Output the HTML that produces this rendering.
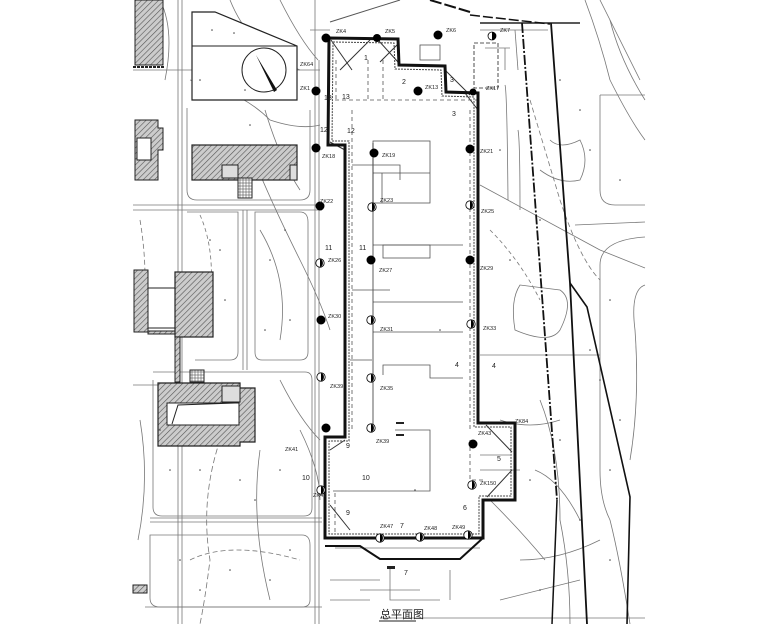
<!DOCTYPE html>
<html><head><meta charset="utf-8"><style>
html,body{margin:0;padding:0;background:#fff;}
svg{display:block}
text{font-family:"Liberation Sans","Noto Sans CJK SC",sans-serif;fill:#222}
</style></head><body>
<svg width="780" height="624" viewBox="0 0 780 624" xmlns="http://www.w3.org/2000/svg">
<defs>
<pattern id="h" width="4" height="4" patternUnits="userSpaceOnUse" patternTransform="rotate(45)">
<rect width="4" height="4" fill="#ccc"/><line x1="0" y1="0" x2="0" y2="4" stroke="#555" stroke-width="1.2"/></pattern>
<pattern id="g" width="3" height="3" patternUnits="userSpaceOnUse"><rect width="3" height="3" fill="#fff" stroke="#555" stroke-width="0.6"/></pattern>
</defs>
<rect width="780" height="624" fill="#fff"/>
<g fill="none" stroke="#777" stroke-width="0.8">
<line x1="178" y1="0" x2="178" y2="624"/><line x1="182" y1="0" x2="182" y2="624"/>
<line x1="133" y1="205" x2="322" y2="205"/><line x1="133" y1="210" x2="322" y2="210"/>
<line x1="133" y1="385" x2="158" y2="385"/>
<line x1="150" y1="518" x2="322" y2="518"/><line x1="150" y1="522" x2="322" y2="522"/>
<line x1="145" y1="607" x2="322" y2="607"/>
<line x1="243" y1="210" x2="243" y2="370"/><line x1="247" y1="210" x2="247" y2="370"/>
<path d="M187 108 V190 Q187 200 197 200 H300 Q310 200 310 190 V110"/>
<path d="M255 212 H300 Q308 212 308 222 V352 Q308 360 300 360 H262 Q255 360 255 352 Z"/>
<path d="M187 212 H238 V352 Q238 360 230 360 H195"/>
<path d="M153 372 H305 Q312 372 312 380 V508 Q312 516 304 516 H162 Q153 516 153 507 V380"/>
<path d="M150 535 H302 Q310 535 310 545 V600 Q310 607 302 607 H160 Q150 607 150 598 Z"/>
<line x1="315" y1="0" x2="315" y2="624"/><line x1="319" y1="60" x2="319" y2="624"/>
<line x1="310" y1="30" x2="330" y2="30"/>
<path d="M160 0 Q175 30 165 80"/>
<path d="M133 70 H320"/>
<path d="M200 215 Q220 260 205 330" stroke-dasharray="4 3"/>
<path d="M260 230 Q290 280 280 340"/>
<path d="M190 80 Q240 90 270 120 Q300 130 320 125"/>
<path d="M250 150 Q270 200 300 260 Q320 300 330 330"/>
<path d="M220 440 Q200 500 210 560 Q205 600 200 624" stroke-dasharray="6 3"/>
<path d="M260 450 Q250 520 270 600"/>
<path d="M140 420 Q150 480 138 540"/>
<path d="M280 0 Q300 40 318 60"/>
<path d="M230 0 Q250 50 300 70" />
<path d="M140 220 Q150 280 140 330" stroke-dasharray="5 3"/>
<path d="M280 380 Q300 420 320 440"/>
<path d="M190 560 Q230 540 300 560" stroke-dasharray="5 3"/>
<path d="M300 430 Q320 470 320 500"/>
<path d="M265 110 Q280 160 300 190"/>
<line x1="480" y1="23" x2="580" y2="23" stroke="#222" stroke-width="1.5"/>
<line x1="480" y1="30" x2="548" y2="30"/>
<path d="M600 0 Q620 40 640 80"/><path d="M585 0 Q600 40 610 80 Q630 120 645 140"/>
<path d="M600 95 H645 M600 95 V190 Q600 205 615 205 H645"/>
<line x1="575" y1="225" x2="645" y2="222"/>
<line x1="480" y1="185" x2="600" y2="250"/><line x1="600" y1="250" x2="645" y2="268"/>
<path d="M645 237 Q600 240 600 265 V470 Q600 500 610 520 Q620 560 630 624"/>
<path d="M645 285 Q630 290 635 330 Q640 400 630 460"/>
<path d="M505 85 Q507 90 508 200 M518 130 Q520 140 520 210"/>
<path d="M520 285 Q510 300 515 330 Q550 345 560 330 Q575 300 560 290 Z"/>
<path d="M550 140 Q560 150 580 140 Q590 160 580 180 Q560 185 540 170"/>
<path d="M480 355 H600 M500 420 Q530 430 560 420"/>
<path d="M520 560 Q560 560 600 540 M500 600 Q540 590 580 580"/>
<path d="M540 400 Q560 450 560 520 Q570 570 570 624"/>
<path d="M530 100 Q545 150 560 200 Q580 260 600 280" stroke-dasharray="5 3"/>
<path d="M490 230 Q520 260 540 300" stroke-dasharray="4 3"/>
<path d="M610 20 Q620 60 645 100"/>
<path d="M490 500 Q520 530 545 560" />
<line x1="485" y1="48" x2="510" y2="48"/><line x1="505" y1="48" x2="505" y2="70"/>
<line x1="515" y1="30" x2="518" y2="70"/>
<path d="M335 548 H480 M390 568 V600 H440 M360 590 H420"/>
<path d="M380 618 H645" />
<path d="M535 470 Q560 480 580 520" />
<path d="M480 455 H510 M480 470 H520"/>
<path d="M330 580 H380 M450 570 V600 M330 600 H370"/>
</g>
<g fill="none" stroke="#111">
<line x1="522" y1="23" x2="557" y2="500" stroke-width="1.8" stroke-dasharray="10 2 2 2"/>
<line x1="557" y1="500" x2="552" y2="624" stroke-width="1.5"/>
<path d="M551 23 L570 283 L587 624" stroke-width="1.8"/>
<path d="M570 283 L587 307 L630 497 L627 624" stroke-width="1.6"/>
<line x1="400" y1="0" x2="330" y2="22" stroke-width="1" stroke="#555"/>
<line x1="430" y1="0" x2="470" y2="12" stroke-width="2" stroke-dasharray="12 3"/>
<line x1="470" y1="15" x2="550" y2="24" stroke-width="1.5" stroke-dasharray="10 3"/>
</g>
<rect x="135" y="0" width="28" height="65" fill="url(#h)" stroke="#222"/>
<line x1="133" y1="67" x2="165" y2="67" stroke="#222" stroke-width="2" stroke-dasharray="3 1"/>
<path d="M192 12 H215 L297 46 V100 H192 Z" fill="#fff" stroke="#222" stroke-width="1.2"/>
<line x1="192" y1="46" x2="297" y2="46" stroke="#222"/>
<circle cx="264" cy="70" r="22" fill="none" stroke="#222"/>
<path d="M256 55 L274 92 L277 90 Z" fill="#111"/>
<path d="M135 120 H158 V128 H163 V150 H158 V180 H135 Z" fill="url(#h)" stroke="#222"/>
<rect x="137" y="138" width="14" height="22" fill="#fff" stroke="#222"/>
<rect x="192" y="145" width="105" height="35" fill="url(#h)" stroke="#222" stroke-width="1.2"/>
<rect x="222" y="165" width="16" height="13" fill="#ddd" stroke="#222"/>
<rect x="238" y="178" width="14" height="20" fill="url(#g)" stroke="#222"/>
<rect x="290" y="165" width="7" height="15" fill="#ddd" stroke="#222"/>
<rect x="134" y="270" width="14" height="62" fill="url(#h)" stroke="#222"/>
<rect x="148" y="288" width="27" height="40" fill="#fff" stroke="#222"/>
<rect x="148" y="331" width="27" height="3" fill="url(#h)" stroke="#222"/>
<rect x="175" y="272" width="38" height="65" fill="url(#h)" stroke="#222" stroke-width="1.2"/>
<rect x="175" y="337" width="5" height="45" fill="url(#h)" stroke="#222"/>
<rect x="190" y="370" width="14" height="12" fill="url(#g)" stroke="#222"/>
<path d="M158 383 H240 V388 H255 V442 H240 V446 H158 Z" fill="url(#h)" stroke="#222" stroke-width="1.2"/>
<path d="M167 403 H239 V425 H167 Z" fill="#fff" stroke="#222"/>
<path d="M172 424 L178 405 L235 403" fill="none" stroke="#222"/>
<rect x="222" y="386" width="18" height="16" fill="#ddd" stroke="#222"/>
<rect x="133" y="585" width="14" height="8" fill="url(#h)" stroke="#222"/>
<g fill="none" stroke="#555" stroke-width="0.8">
<rect x="373" y="141" width="57" height="62"/><line x1="373" y1="173" x2="430" y2="173"/><line x1="382" y1="173" x2="382" y2="203"/>
<line x1="373" y1="245" x2="463" y2="245"/><rect x="383" y="245" width="47" height="13"/>
<line x1="373" y1="302" x2="463" y2="302"/><line x1="373" y1="332" x2="463" y2="332"/>
<path d="M383 375 V365 H430 V378 H463"/>
<path d="M395 430 H430 V491 H333"/>
<line x1="373" y1="143" x2="373" y2="430" stroke="#333"/>
<line x1="352" y1="110" x2="352" y2="430" stroke-dasharray="4 3"/>
<line x1="470" y1="110" x2="470" y2="430" stroke-dasharray="4 3"/>
<line x1="335" y1="100" x2="478" y2="100" stroke-dasharray="4 3"/>
<line x1="336" y1="60" x2="336" y2="100" stroke-dasharray="4 3"/>
<line x1="368" y1="60" x2="368" y2="100" stroke-dasharray="4 3"/>
<line x1="383" y1="60" x2="383" y2="100" stroke-dasharray="4 3"/>
<path d="M470 440 V480 H485" stroke-dasharray="4 3"/>
<path d="M335 493 V535" stroke-dasharray="4 3"/>
<rect x="420" y="45" width="20" height="15"/>
<rect x="474" y="43" width="24" height="45" stroke-dasharray="4 2" stroke="#222"/>
<path d="M352 165 H400 V180 M352 290 H390 M350 360 H372"/>
</g>
<g stroke="#333" stroke-width="1" fill="none">
<path d="M331 40 L352 70 M370 40 L340 70 M378 40 L398 62 M398 44 L380 62 M445 70 L470 95 M465 93 L478 110 M330 142 L345 150 M486 425 L512 452 M512 470 L487 497 M330 450 L345 440 M330 505 L350 530"/>
</g>
<path d="M329 38 L398 39 L399 65 L445 66 L446 92 L478 93 L478 423 L515 423 L515 500 L483 500 L483 538 L330 538 L325 538 L325 437 L345 437 L345 145 L328 145 Z" fill="none" stroke="#111" stroke-width="3"/>
<path d="M333 42 L394 43 L395 69 L441 70 L442 96 L474 97 L474 427 L511 427 L511 496 L479 496 L479 534 L329 534 L329 441 L349 441 L349 141 L332 141 Z" fill="none" stroke="#444" stroke-width="1" stroke-dasharray="2 1"/>
<path d="M325 546 L360 546 L380 559 L460 559 L483 538" fill="none" stroke="#111" stroke-width="2"/>
<g fill="#000">
<circle cx="326" cy="38" r="4.5"/><circle cx="377" cy="38" r="4"/><circle cx="438" cy="35" r="4.5"/>
<circle cx="418" cy="91" r="4.5"/><circle cx="316" cy="91" r="4.5"/><circle cx="316" cy="148" r="4.5"/>
<circle cx="320" cy="206" r="4.5"/><circle cx="321" cy="320" r="4.5"/><circle cx="326" cy="428" r="4.5"/>
<circle cx="374" cy="153" r="4.5"/><circle cx="371" cy="260" r="4.5"/><circle cx="470" cy="149" r="4.5"/>
<circle cx="470" cy="260" r="4.5"/><circle cx="473" cy="444" r="4.5"/><circle cx="473" cy="92" r="3.5"/>
</g>
<g stroke="#000" stroke-width="0.8">
<g fill="#fff">
<circle cx="320" cy="263" r="4.2"/><circle cx="321" cy="377" r="4.2"/><circle cx="321" cy="490" r="4.2"/>
<circle cx="372" cy="207" r="4.2"/><circle cx="371" cy="320" r="4.2"/><circle cx="371" cy="378" r="4.2"/><circle cx="371" cy="428" r="4.2"/>
<circle cx="470" cy="205" r="4.2"/><circle cx="471" cy="324" r="4.2"/><circle cx="472" cy="485" r="4.2"/>
<circle cx="380" cy="538" r="4.2"/><circle cx="420" cy="537" r="4.2"/><circle cx="468" cy="535" r="4.2"/><circle cx="492" cy="36" r="4"/>
</g>
<g fill="#000" stroke="none">
<path d="M320 259 A4.2 4.2 0 0 1 320 267Z"/><path d="M321 373 A4.2 4.2 0 0 1 321 381Z"/><path d="M321 486 A4.2 4.2 0 0 1 321 494Z"/>
<path d="M372 203 A4.2 4.2 0 0 1 372 211Z"/><path d="M371 316 A4.2 4.2 0 0 1 371 324Z"/><path d="M371 374 A4.2 4.2 0 0 1 371 382Z"/><path d="M371 424 A4.2 4.2 0 0 1 371 432Z"/>
<path d="M470 201 A4.2 4.2 0 0 1 470 209Z"/><path d="M471 320 A4.2 4.2 0 0 1 471 328Z"/><path d="M472 481 A4.2 4.2 0 0 1 472 489Z"/>
<path d="M380 534 A4.2 4.2 0 0 1 380 542Z"/><path d="M420 533 A4.2 4.2 0 0 1 420 541Z"/><path d="M468 531 A4.2 4.2 0 0 1 468 539Z"/><path d="M492 32 A4 4 0 0 1 492 40Z"/>
</g></g>
<rect x="396" y="422" width="8" height="2" fill="#222"/><rect x="396" y="434" width="8" height="2" fill="#222"/>
<rect x="387" y="566" width="8" height="3" fill="#222"/>
<g font-size="5.5">
<text x="336" y="33">ZK4</text><text x="385" y="33">ZK5</text><text x="446" y="32">ZK6</text><text x="500" y="32">ZK7</text>
<text x="425" y="89">ZK13</text><text x="486" y="90">ZK17</text><text x="300" y="90">ZK1</text><text x="322" y="158">ZK18</text>
<text x="382" y="157">ZK19</text><text x="480" y="153">ZK21</text><text x="320" y="203">ZK22</text><text x="380" y="202">ZK23</text>
<text x="481" y="213">ZK25</text><text x="328" y="262">ZK26</text><text x="379" y="272">ZK27</text><text x="480" y="270">ZK29</text>
<text x="328" y="318">ZK30</text><text x="380" y="331">ZK31</text><text x="483" y="330">ZK33</text><text x="330" y="388">ZK39</text>
<text x="380" y="390">ZK35</text><text x="376" y="443">ZK39</text><text x="478" y="435">ZK43</text><text x="480" y="485">ZK150</text>
<text x="313" y="497">ZK42</text><text x="380" y="528">ZK47</text><text x="424" y="530">ZK48</text><text x="452" y="529">ZK49</text>
<text x="285" y="451">ZK41</text><text x="515" y="423">ZK84</text><text x="300" y="66">ZK64</text>
</g>
<g font-size="7">
<text x="342" y="99">13</text><text x="347" y="133">12</text><text x="324" y="100">13</text><text x="320" y="132">12</text>
<text x="359" y="250">11</text><text x="325" y="250">11</text><text x="362" y="480">10</text><text x="302" y="480">10</text>
<text x="346" y="448">9</text><text x="346" y="515">9</text><text x="400" y="528">7</text><text x="404" y="575">7</text>
<text x="463" y="510">6</text><text x="497" y="461">5</text><text x="455" y="367">4</text><text x="492" y="368">4</text>
<text x="364" y="60">1</text><text x="402" y="84">2</text><text x="450" y="82">3</text><text x="452" y="116">3</text>
</g>
<text x="380" y="618" font-size="11">总平面图</text>
<line x1="379" y1="621" x2="416" y2="621" stroke="#222"/>
<g fill="#444">
<circle cx="212" cy="30" r="0.8"/><circle cx="234" cy="33" r="0.8"/><circle cx="200" cy="80" r="0.8"/><circle cx="245" cy="90" r="0.8"/>
<circle cx="210" cy="240" r="0.8"/><circle cx="225" cy="300" r="0.8"/><circle cx="270" cy="260" r="0.8"/><circle cx="290" cy="320" r="0.8"/>
<circle cx="200" cy="470" r="0.8"/><circle cx="240" cy="480" r="0.8"/><circle cx="280" cy="470" r="0.8"/><circle cx="180" cy="560" r="0.8"/>
<circle cx="230" cy="570" r="0.8"/><circle cx="270" cy="580" r="0.8"/><circle cx="560" cy="80" r="0.8"/><circle cx="590" cy="150" r="0.8"/>
<circle cx="540" cy="220" r="0.8"/><circle cx="610" cy="300" r="0.8"/><circle cx="600" cy="380" r="0.8"/><circle cx="560" cy="440" r="0.8"/>
<circle cx="610" cy="470" r="0.8"/><circle cx="540" cy="590" r="0.8"/><circle cx="500" cy="150" r="0.8"/><circle cx="510" cy="260" r="0.8"/>
<circle cx="415" cy="490" r="0.8"/><circle cx="440" cy="330" r="0.8"/><circle cx="250" cy="125" r="0.8"/><circle cx="160" cy="430" r="0.8"/>
<circle cx="220" cy="250" r="0.8"/><circle cx="285" cy="230" r="0.8"/><circle cx="265" cy="330" r="0.8"/><circle cx="170" cy="470" r="0.8"/>
<circle cx="255" cy="500" r="0.8"/><circle cx="200" cy="590" r="0.8"/><circle cx="290" cy="550" r="0.8"/><circle cx="580" cy="110" r="0.8"/>
<circle cx="620" cy="180" r="0.8"/><circle cx="590" cy="350" r="0.8"/><circle cx="620" cy="420" r="0.8"/><circle cx="580" cy="520" r="0.8"/>
<circle cx="610" cy="560" r="0.8"/><circle cx="530" cy="480" r="0.8"/>
</g>
</svg>
</body></html>
